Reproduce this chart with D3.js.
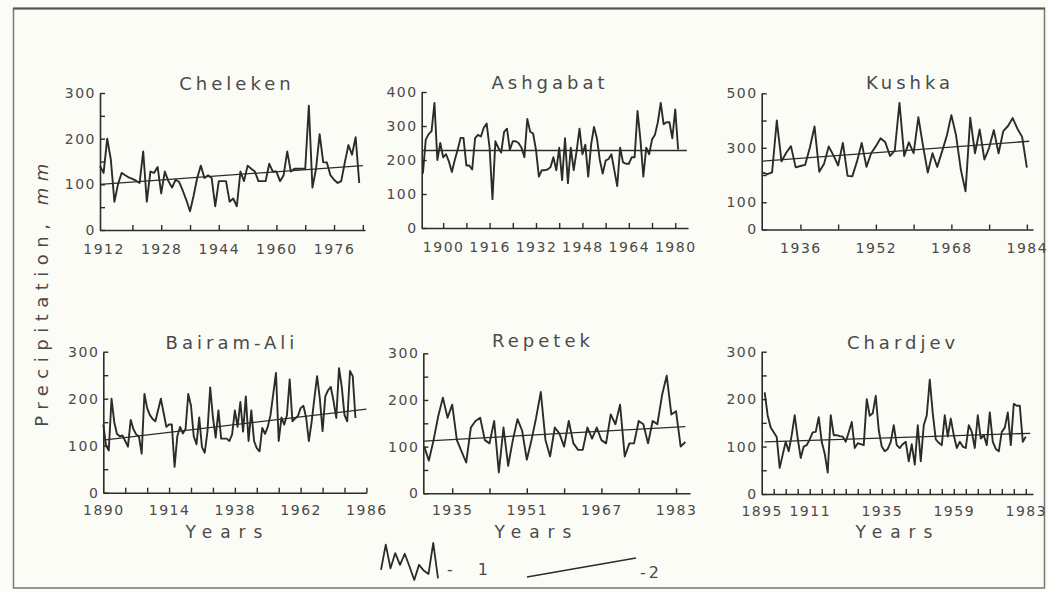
<!DOCTYPE html>
<html>
<head>
<meta charset="utf-8">
<script src="https://cdn.jsdelivr.net/npm/d3@7"></script>
<style>
	body { margin: 0; background: #fcfcf7; }
	svg { display: block; }
	text { font-family: "DejaVu Sans", sans-serif; fill: #4a4a4a; }
</style>
</head>
<body>
<svg id="chart" width="1048" height="592"></svg>
<script>
// ---- data (annual precipitation, mm) ----
var stations = ["Cheleken", "Ashgabat", "Kushka", "Bairam-Ali", "Repetek", "Chardjev"];
var firstYear = [1911, 1893, 1928, 1890, 1929, 1896];

var cheleken = [140,125,200,155,62,100,125,120,115,112,108,103,172,62,128,125,138,80,128,107,
	93,110,105,86,65,41,75,114,141,114,120,114,52,107,107,107,62,69,52,128,
	107,141,134,128,107,107,107,145,128,128,107,120,172,128,134,134,134,134,272,93,
	134,210,148,148,120,110,103,107,148,186,165,203,103];
var ashgabat = [160,260,276,285,368,200,250,208,217,195,165,200,230,265,265,184,184,172,264,274,
	269,295,307,236,85,255,236,222,283,292,230,255,255,250,236,208,321,283,278,230,
	151,170,170,172,179,208,170,236,141,264,132,236,170,226,292,217,245,151,245,297,
	264,200,160,198,203,217,170,123,236,193,189,189,208,208,344,260,151,236,217,260,
	274,311,368,305,311,311,264,349,231];
var kushka = [209,203,210,400,250,282,306,228,233,237,300,378,212,240,305,272,235,318,197,195,
	250,318,230,280,306,335,320,270,290,465,270,320,280,412,306,209,280,230,285,342,
	420,345,220,140,410,280,367,257,300,365,280,361,380,409,370,340,227];
var bairamAli = [145,100,90,200,150,125,120,122,110,98,155,135,124,120,83,210,180,165,157,152,
	176,200,170,140,145,145,55,120,140,126,135,210,185,120,103,160,97,85,130,224,
	160,117,175,115,115,115,110,124,175,140,193,130,205,110,175,110,95,88,138,125,
	140,165,210,255,110,160,145,165,241,152,158,163,180,185,160,110,150,200,248,200,
	131,205,218,225,195,159,265,225,165,152,259,248,159];
var repetek = [100,70,114,165,205,162,190,114,90,66,141,155,162,114,107,155,45,141,59,114,
	159,134,72,114,162,217,114,79,141,128,100,155,107,93,93,141,117,141,114,107,
	169,148,190,79,107,107,155,148,107,155,148,210,252,169,176,100,110];
var chardjev = [214,165,140,130,120,55,83,110,90,124,166,117,76,100,103,115,130,131,162,110,
	85,45,166,124,124,122,121,110,130,152,97,107,105,103,200,165,170,207,135,100,
	90,95,110,145,103,97,105,110,69,105,62,145,69,145,166,241,170,115,108,103,
	166,121,159,124,97,110,100,97,145,131,97,166,117,124,103,172,110,95,90,131,
	140,172,103,190,186,186,110,121];
var series = [cheleken, ashgabat, kushka, bairamAli, repetek, chardjev];

// linear trend (2): value at start and end year
var trendFromYear = [1911, 1893, 1928, 1890, 1929, 1896];
var trendToYear   = [1984, 1984, 1984.5, 1986, 1985, 1984.5];
var trendFrom = [100, 228, 251, 112, 112, 110];
var trendTo   = [141, 228, 324, 178, 143, 128];

// axes
var yMax = [300, 400, 500, 300, 300, 300];
var yTickStep = [50, 100, 100, 50, 50, 50];
var yLabels = [[0,100,200,300], [0,100,200,300,400], [0,100,300,500], [0,100,200,300], [0,100,200,300], [0,100,200,300]];
var xTickFirst = [1920, 1900, 1936, 1898, 1935, 1899];
var xTickLast  = [1984, 1980, 1984, 1986, 1983, 1983];
var xTickStep  = [8, 8, 8, 8, 8, 4];
var xLabels = [[1912,1928,1944,1960,1976], [1900,1916,1932,1948,1964,1980], [1936,1952,1968,1984],
	[1890,1914,1938,1962,1986], [1935,1951,1967,1983], [1895,1911,1935,1959,1983]];

// legend glyph for (1)
var legendWave = [30,105,35,80,45,78,40,0,45,28,18,110,5];

// ---- layout (pixels) ----
var layout = [
	{left:100,   right:365,  bottom:230,   top:93,    xFrom:1911,   xTo:1984.6, tx:237, ty:83,  pad:14},
	{left:421.7, right:688,  bottom:228,   top:92,    xFrom:1892.6, xTo:1984.4, tx:550, ty:82,  pad:14},
	{left:761.7, right:1033, bottom:229.5, top:93.3,  xFrom:1927.8, xTo:1985.3, tx:910, ty:82,  pad:14},
	{left:103.3, right:366.7,bottom:492.7, top:351.7, xFrom:1890,   xTo:1986.1, tx:232, ty:342, pad:12},
	{left:423.3, right:690,  bottom:493.3, top:353.3, xFrom:1928.8, xTo:1986,   tx:543, ty:340, pad:12},
	{left:761.7, right:1033, bottom:494,   top:351.7, xFrom:1895,   xTo:1985.4, tx:903, ty:342, pad:12}
];
var yearsX = [0, 0, 0, 228, 537, 898];
var ink = "#2b2b2b";

var svg = d3.select("#chart");

// outer frame of the scanned figure
svg.append("rect")
	.attr("x", 13.5).attr("y", 8.5)
	.attr("width", 1031).attr("height", 579.5)
	.attr("fill", "none").attr("stroke", "#777").attr("stroke-width", 1.5);
svg.append("line")
	.attr("x1", 13).attr("x2", 1045).attr("y1", 8.5).attr("y2", 8.5)
	.attr("stroke", "#555").attr("stroke-width", 2);

for (var i = 0; i < stations.length; i++) {
	var L = layout[i];
	var g = svg.append("g").attr("class", "panel");

	var x = d3.scaleLinear().domain([L.xFrom, L.xTo]).range([L.left, L.right]);
	var y = d3.scaleLinear().domain([0, yMax[i]]).range([L.bottom, L.top]);

	/**  axes  **/
	g.append("g")
		.attr("transform", "translate(0," + L.bottom + ")")
		.call(d3.axisBottom(x)
			.tickValues(d3.range(xTickFirst[i], xTickLast[i] + 1, xTickStep[i]))
			.tickSize(-5).tickSizeOuter(0).tickFormat(""));

	var xl = g.append("g")
		.attr("transform", "translate(0," + L.bottom + ")")
		.call(d3.axisBottom(x).tickValues(xLabels[i]).tickSize(0).tickPadding(L.pad).tickFormat(d3.format("d")));
	xl.select(".domain").remove();

	g.append("g")
		.attr("transform", "translate(" + L.left + ",0)")
		.call(d3.axisLeft(y)
			.tickValues(d3.range(0, yMax[i] + 1, yTickStep[i]))
			.tickSize(-5).tickSizeOuter(0).tickFormat(""));

	var yl = g.append("g")
		.attr("transform", "translate(" + L.left + ",0)")
		.call(d3.axisLeft(y).tickValues(yLabels[i]).tickSize(0).tickPadding(4));
	yl.select(".domain").remove();

	g.selectAll(".domain").attr("stroke", ink).attr("stroke-width", 1.6);
	g.selectAll(".tick line").attr("stroke", ink).attr("stroke-width", 1.4);
	g.selectAll(".tick text")
		.attr("fill", "#4a4a4a")
		.style("font-size", "14px")
		.style("letter-spacing", "1.5px")
		.style("font-family", "\"DejaVu Sans\", sans-serif");

	/**  series (1) and trend (2)  **/
	var yr0 = firstYear[i];
	g.append("path")
		.datum(series[i])
		.attr("d", d3.line()
			.x(function(d, j) { return x(yr0 + j); })
			.y(function(d) { return y(d); }))
		.attr("fill", "none")
		.attr("stroke", ink)
		.attr("stroke-width", 1.9)
		.attr("stroke-linejoin", "round");

	g.append("path")
		.datum([[trendFromYear[i], trendFrom[i]], [trendToYear[i], trendTo[i]]])
		.attr("d", d3.line()
			.x(function(d) { return x(d[0]); })
			.y(function(d) { return y(d[1]); }))
		.attr("fill", "none")
		.attr("stroke", ink)
		.attr("stroke-width", 1.3);

	g.append("text")
		.attr("x", L.tx).attr("y", L.ty)
		.attr("text-anchor", "middle")
		.attr("dominant-baseline", "central")
		.style("font-size", "18px")
		.style("letter-spacing", "4px")
		.text(stations[i]);

	if (i >= 3) {
		g.append("text")
			.attr("x", yearsX[i]).attr("y", 532)
			.attr("text-anchor", "middle")
			.attr("dominant-baseline", "central")
			.style("font-size", "17px")
			.style("letter-spacing", "8px")
			.text("Years");
	}
}

// y title
var yTitle = svg.append("text")
	.attr("transform", "translate(41,292) rotate(-90)")
	.attr("text-anchor", "middle")
	.attr("dominant-baseline", "central")
	.style("font-size", "18px")
	.style("letter-spacing", "6.5px");
yTitle.append("tspan").text("Precipitation, ");
yTitle.append("tspan").style("font-style", "italic").text("mm");

// legend
var lg = svg.append("g");
var lx = d3.scalePoint().domain(d3.range(legendWave.length)).range([381, 438]);
var ly = d3.scaleLinear().domain([0, 110]).range([580, 543]);
lg.append("path")
	.datum(legendWave)
	.attr("d", d3.line().x(function(d, j) { return lx(j); }).y(function(d) { return ly(d); }))
	.attr("fill", "none").attr("stroke", ink).attr("stroke-width", 1.8).attr("stroke-linejoin", "round");
lg.append("text").attr("x", 447).attr("y", 575)
	.style("font-size", "16px").style("letter-spacing", "10px").text("- 1");

var tx = d3.scaleLinear().domain([0, 1]).range([527, 636]);
var ty = d3.scaleLinear().domain([0, 1]).range([577, 558]);
lg.append("line")
	.attr("x1", tx(0)).attr("y1", ty(0)).attr("x2", tx(1)).attr("y2", ty(1))
	.attr("stroke", ink).attr("stroke-width", 1.3);
lg.append("text").attr("x", 640).attr("y", 578)
	.style("font-size", "16px").style("letter-spacing", "3px").text("-2");
</script>
</body>
</html>
